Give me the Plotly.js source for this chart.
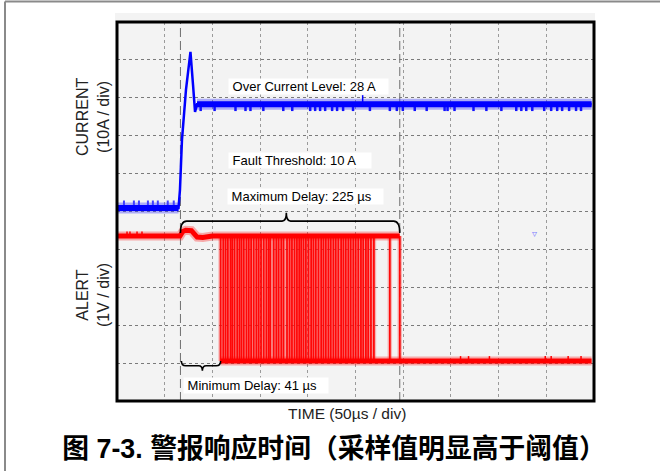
<!DOCTYPE html>
<html><head><meta charset="utf-8">
<script src="https://cdn.plot.ly/plotly-3.0.1.min.js"></script>
<style>html,body{margin:0;padding:0;background:#fff;}#chart{width:660px;height:471px;}</style>
</head><body><div id="chart"></div>
<script>
// ---------------- DATA ----------------
// Time axis in µs (50 µs / div, 10 divisions)
const timeRange = [0, 500];
const triggerTime = 66.5;               // µs, fault instant (dashed marker)
const overCurrentLevel = 28;            // A
const faultThreshold = 10;              // A
const maxDelay = 225;                   // µs
const minDelay = 41;                    // µs

// CURRENT waveform (A)
const currentTime = [1, 64.5, 66.0, 68.1, 72.3, 77.0, 79.7, 81.8, 83.9, 497.5];
const currentAmps = [0, 0, 4.8, 18.0, 31.2, 41.2, 32.5, 25.4, 27.4, 27.4];
// noise spikes on the current trace
const baselineSpikeTimes = [7.3, 17.7, 23.0, 32.4, 37.6, 42.8, 53.2, 59.5];
const baselineSpikeAmps = 2.0;
const steadySpikeTimes = [87.7, 102.3, 124.2, 134.7, 139.9, 153.4, 174.3, 183.7, 202.5, 207.7,
  212.9, 218.2, 225.5, 230.7, 237.0, 247.4, 265.1, 286.0, 293.3, 299.6, 312.1, 324.6, 343.4,
  346.5, 353.8, 373.7, 387.2, 402.9, 418.5, 423.8, 429.0, 435.3, 447.8, 455.1, 461.4, 466.6,
  473.9, 481.2, 486.4];
const steadySpikeAmps = 25.6;
const steadyUpSpikeTimes = [257.5];
const steadyUpSpikeAmps = 29.8;

// ALERT waveform (V)
const alertHighTime  = [0, 66, 69, 72, 78, 81, 84, 90, 100, 296.4];
const alertHighVolts = [3.3, 3.3, 3.42, 3.45, 3.44, 3.36, 3.27, 3.26, 3.3, 3.3];
const alertLowTime  = [108.6, 497.5];
const alertLowVolts = [0, 0];
const alertHighLevel = 3.3;
const alertLowLevel = 0;
// switching edges of the ALERT output (persistence capture)
const alertEdgeTimes = [108.6, 111.4, 113.8, 116.2, 119.0, 120.8, 123.2, 126.0, 128.4, 130.5,
  132.9, 135.7, 138.1, 140.6, 143.3, 146.1, 148.5, 151.0, 153.8, 156.6, 159.0, 160.7, 164.2,
  167.0, 169.4, 172.2, 174.6, 178.2, 180.9, 183.4, 186.1, 188.6, 191.0, 193.1, 195.5, 198.0,
  200.7, 203.5, 205.9, 208.4, 211.2, 214.0, 216.4, 218.9, 221.6, 224.1, 226.8, 229.3, 232.0,
  234.9, 237.3, 239.8, 242.5, 245.0, 247.7, 250.2, 252.9, 255.7, 258.1, 260.9, 263.3, 266.2,
  269.3, 286.0, 296.4];
const alertHighSpikeTimes = [10.5, 13.6, 21.0, 26.2];
const alertHighSpikeVolts = 3.42;
const alertLowSpikeTimes = [360.1, 368.5, 390.4, 448.9, 455.1, 472.9, 486.4];
const alertLowSpikeVolts = 0.13;

// ---------------- helpers ----------------
function segs(times, from, to) {
  const x = [], y = [];
  times.forEach(t => { x.push(t, t, null); y.push(from, to, null); });
  return {x, y};
}
const L = 117, T = 22, R = 594, B = 401;
const px = v => (v - L) / (R - L);
const py = v => (B - v) / (B - T);

const steadyLevel = currentAmps[currentAmps.length - 1];
const baseLevel = currentAmps[0];

const traces = [];
// current halo + bands
traces.push({x: currentTime.slice(0, 2), y: currentAmps.slice(0, 2), mode: 'lines',
  line: {color: 'rgba(40,40,255,0.35)', width: 11}});
traces.push({x: currentTime.slice(-2), y: currentAmps.slice(-2), mode: 'lines',
  line: {color: 'rgba(40,40,255,0.35)', width: 11}});
let s = segs(baselineSpikeTimes, baseLevel, baselineSpikeAmps);
traces.push({x: s.x, y: s.y, mode: 'lines', line: {color: '#4040ff', width: 2}});
s = segs(steadySpikeTimes, steadyLevel, steadySpikeAmps);
traces.push({x: s.x, y: s.y, mode: 'lines', line: {color: '#1010ff', width: 2.5}});
s = segs(steadyUpSpikeTimes, steadyLevel, steadyUpSpikeAmps);
traces.push({x: s.x, y: s.y, mode: 'lines', line: {color: '#0000ff', width: 1.5}});
traces.push({x: currentTime.slice(0, 2), y: currentAmps.slice(0, 2), mode: 'lines',
  line: {color: '#0000ff', width: 6}});
traces.push({x: currentTime.slice(-2), y: currentAmps.slice(-2), mode: 'lines',
  line: {color: '#0000ff', width: 6}});
traces.push({x: currentTime, y: currentAmps, mode: 'lines', line: {color: '#0000ff', width: 2.5}});

// alert
traces.push({x: alertHighTime, y: alertHighVolts, yaxis: 'y2', mode: 'lines',
  line: {color: 'rgba(255,0,0,0.3)', width: 9}});
traces.push({x: alertLowTime, y: alertLowVolts, yaxis: 'y2', mode: 'lines',
  line: {color: 'rgba(255,0,0,0.3)', width: 9}});
s = segs(alertEdgeTimes, alertLowLevel, alertHighLevel);
traces.push({x: s.x, y: s.y, yaxis: 'y2', mode: 'lines', line: {color: 'rgba(255,40,40,0.3)', width: 4.5}});
traces.push({x: s.x, y: s.y, yaxis: 'y2', mode: 'lines', line: {color: 'rgba(255,0,0,0.95)', width: 1.8}});
s = segs(alertHighSpikeTimes, alertHighLevel, alertHighSpikeVolts);
traces.push({x: s.x, y: s.y, yaxis: 'y2', mode: 'lines', line: {color: '#ff0000', width: 1.5}});
s = segs(alertLowSpikeTimes, alertLowLevel, alertLowSpikeVolts);
traces.push({x: s.x, y: s.y, yaxis: 'y2', mode: 'lines', line: {color: '#ff0000', width: 1.5}});
traces.push({x: alertHighTime, y: alertHighVolts, yaxis: 'y2', mode: 'lines',
  line: {color: '#ff0000', width: 5}});
traces.push({x: alertLowTime, y: alertLowVolts, yaxis: 'y2', mode: 'lines',
  line: {color: '#ff0000', width: 5}});
traces.forEach(t => { t.hoverinfo = 'skip'; t.showlegend = false; });

// braces (alert axis units)
const alertEnd = alertEdgeTimes[alertEdgeTimes.length - 1];
const firstEdge = alertEdgeTimes[0];
function brace(x0, x1, xc, yEnd, yMid, yTip, r, rt) {
  return `M ${x0},${yEnd} Q ${x0},${yMid} ${x0 + r},${yMid} L ${xc - rt},${yMid} ` +
         `Q ${xc},${yMid} ${xc},${yTip} Q ${xc},${yMid} ${xc + rt},${yMid} ` +
         `L ${x1 - r},${yMid} Q ${x1},${yMid} ${x1},${yEnd}`;
}
const font = 'Liberation Sans, Arial, sans-serif';
const shapes = [
  {type: 'rect', xref: 'paper', yref: 'paper', x0: px(115), x1: px(595), y0: 1, y1: py(13),
   fillcolor: '#f3f3f3', line: {width: 0}, layer: 'below'},
  {type: 'line', xref: 'x', yref: 'paper', x0: triggerTime, x1: triggerTime, y0: 0, y1: 1,
   line: {color: '#6e6e6e', width: 1, dash: '9px,4px'}, layer: 'below'},
  {type: 'line', xref: 'x', yref: 'paper', x0: alertEnd, x1: alertEnd, y0: 0, y1: 1,
   line: {color: '#6e6e6e', width: 1, dash: '9px,4px'}, layer: 'below'},
  {type: 'path', xref: 'x', yref: 'y2',
   path: brace(triggerTime, alertEnd, 177.5, 3.38, 3.69, 3.91, 6.5, 4.5),
   line: {color: '#000', width: 1.6}},
  {type: 'path', xref: 'x', yref: 'y2',
   path: brace(triggerTime + 1, firstEdge, 89.5, 0.0, -0.124, -0.26, 4.5, 4),
   line: {color: '#000', width: 1.6}},
  {type: 'rect', xref: 'paper', yref: 'paper', x0: 0, x1: 1, y0: 0, y1: 1,
   line: {color: '#000', width: 3}, layer: 'above'},
  {type: 'line', xref: 'paper', yref: 'paper', x0: px(5), x1: px(662), y0: py(1.5), y1: py(1.5),
   line: {color: '#8a8a8a', width: 2}},
  {type: 'line', xref: 'paper', yref: 'paper', x0: px(5), x1: px(5), y0: py(1.5), y1: py(473),
   line: {color: '#8a8a8a', width: 2}}
];

function box(text, left, cy, w) {
  return {text: '&nbsp;' + text, xref: 'paper', yref: 'paper', x: px(left), y: py(cy),
    xanchor: 'left', yanchor: 'middle', showarrow: false, align: 'left',
    width: w, height: 15, borderpad: 0, bgcolor: '#ffffff',
    font: {family: font, size: 13, color: '#000'}};
}
const annotations = [
  {text: 'CURRENT<br>(10A / div)', xref: 'paper', yref: 'paper', x: px(93), y: py(117),
   xanchor: 'center', yanchor: 'middle', showarrow: false, textangle: -90,
   font: {family: font, size: 16, color: '#222'}},
  {text: 'ALERT<br>(1V / div)', xref: 'paper', yref: 'paper', x: px(93), y: py(295),
   xanchor: 'center', yanchor: 'middle', showarrow: false, textangle: -90,
   font: {family: font, size: 16, color: '#222'}},
  {text: 'TIME (50µs / div)', xref: 'paper', yref: 'paper', x: px(347), y: py(413),
   xanchor: 'center', yanchor: 'middle', showarrow: false,
   font: {family: font, size: 15.5, color: '#222'}},
  box(`Over Current Level: ${overCurrentLevel} A`, 228, 86, 159),
  box(`Fault Threshold: ${faultThreshold} A`, 228, 160.5, 142),
  box(`Maximum Delay: ${maxDelay} µs`, 227, 197, 155),
  box(`Minimum Delay: ${minDelay} µs`, 183, 385.5, 144),
  {text: '▿', xref: 'paper', yref: 'paper', x: px(534), y: py(233), xanchor: 'center',
   yanchor: 'middle', showarrow: false, font: {family: 'DejaVu Sans', size: 10, color: '#7c7cff'}}
];

const layout = {
  width: 660, height: 471,
  margin: {l: L, r: 660 - R, t: T, b: 471 - B, pad: 0},
  paper_bgcolor: '#ffffff', plot_bgcolor: '#f3f3f3', showlegend: false,
  font: {family: font, color: '#000'},
  title: {text: '<b>图 7-3. 警报响应时间（采样值明显高于阈值）</b>',
    font: {family: 'Liberation Sans, Noto Sans CJK SC, sans-serif', size: 26.8, color: '#000'},
    xref: 'container', yref: 'container', x: 334 / 660, y: 1 - 449 / 471,
    xanchor: 'center', yanchor: 'middle'},
  xaxis: {range: timeRange, tick0: 0, dtick: 50, showgrid: true, gridcolor: '#9a9a9a',
    griddash: '3px,3px', gridwidth: 1, showticklabels: false, ticks: '', zeroline: false,
    showline: false, fixedrange: true},
  yaxis: {range: [-50.9, 49.1], tick0: -50.9, dtick: 10, showgrid: true, gridcolor: '#7a7a7a',
    griddash: 'dot', gridwidth: 1, showticklabels: false, ticks: '', zeroline: false,
    showline: false, fixedrange: true},
  yaxis2: {range: [-1.055, 8.945], overlaying: 'y', side: 'right', showgrid: false,
    showticklabels: false, ticks: '', zeroline: false, showline: false, fixedrange: true},
  shapes, annotations
};
Plotly.newPlot('chart', traces, layout, {staticPlot: true, displayModeBar: false});
</script></body></html>
